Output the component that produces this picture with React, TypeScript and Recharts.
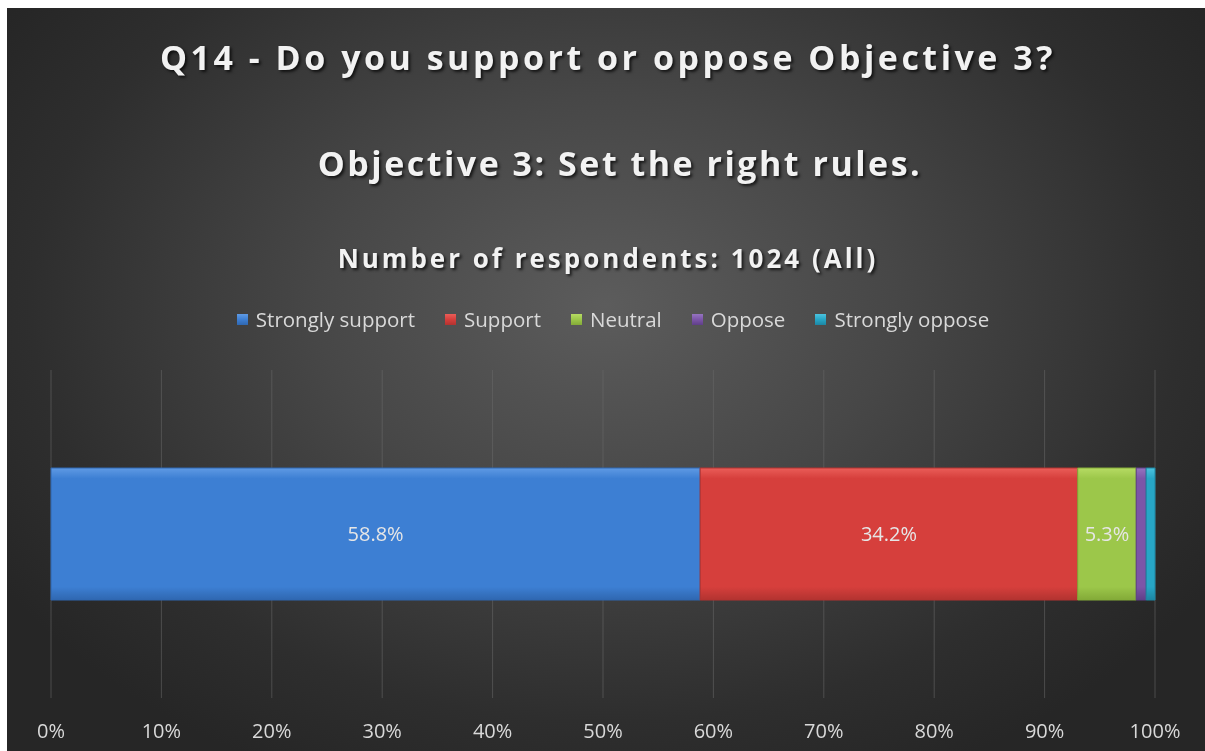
import React from "react";
import { BarChart, Bar, XAxis, YAxis, CartesianGrid, Legend, LabelList } from "recharts";

const categories = ["Q14"];
const seriesNames = ["Strongly support", "Support", "Neutral", "Oppose", "Strongly oppose"];
const seriesValues = [58.8, 34.2, 5.3, 0.9, 0.8];
const seriesColors = ["#3d7fd3", "#d63f3c", "#9cc74a", "#7c55a8", "#27a6c6"];
const seriesLight = ["#5f9ae4", "#ea5d58", "#b6db63", "#9574c0", "#4cc3df"];
const seriesDark = ["#2f67b0", "#b23330", "#83aa38", "#5f3f88", "#1c86a3"];
const labelledSeries = [true, true, true, false, false];
const xTicks = [0, 10, 20, 30, 40, 50, 60, 70, 80, 90, 100];
const titles = ["Q14 - Do you support or oppose Objective 3?", "Objective 3: Set the right rules.", "Number of respondents: 1024 (All)"];

const data = categories.map((c) => {
  const row: any = { name: c };
  seriesNames.forEach((s, i) => (row[s] = seriesValues[i]));
  return row;
});

const W = 1198;
const H = 743;
const FONT = "'Open Sans', 'Noto Sans', sans-serif";

const LegendContent = () => (
  <div style={{ display: "flex", justifyContent: "center", alignItems: "center", fontFamily: FONT, fontSize: 20.5, color: "#d9d9d9", paddingLeft: 14 }}>
    {seriesNames.map((s, i) => (
      <div key={s} style={{ display: "flex", alignItems: "center", marginRight: i < seriesNames.length - 1 ? 30 : 0 }}>
        <span
          style={{
            display: "inline-block",
            width: 11,
            height: 11,
            marginRight: 8,
            background: `linear-gradient(180deg, ${seriesLight[i]} 0%, ${seriesColors[i]} 50%, ${seriesDark[i]} 100%)`,
          }}
        />
        <span>{s}</span>
      </div>
    ))}
  </div>
);

const titleTops = [57, 163, 258];
const titleSizes = [34, 34, 26];
const titleSpacing = [3.5, 2.5, 3.0];
const titleShift = [4, 28, 4];

export default function App() {
  return (
    <div
      style={{
        position: "fixed",
        left: 7,
        top: 8,
        width: W,
        height: H,
        background: "radial-gradient(ellipse 60% 70% at 50% 40%, #5c5c5c 0%, #474747 40%, #2e2e2e 80%, #262626 100%)",
        overflow: "hidden",
      }}
    >
      {titles.map((t, i) => (
        <div
          key={t}
          style={{
            position: "absolute",
            left: 0,
            width: W,
            boxSizing: "border-box",
            paddingLeft: titleShift[i],
            textAlign: "center",
            top: titleTops[i] - 8 - 25,
            fontFamily: FONT,
            fontWeight: 700,
            fontSize: titleSizes[i],
            lineHeight: "50px",
            letterSpacing: titleSpacing[i],
            color: "#f2f2f2",
            textShadow: "2px 2px 3px rgba(0,0,0,0.7)",
          }}
        >
          {t}
        </div>
      ))}
      <div style={{ position: "absolute", left: 0, top: 0 }}>
        <BarChart
          width={W}
          height={H}
          data={data}
          layout="vertical"
          margin={{ top: 362, right: 50, bottom: 0, left: 44 }}
          barCategoryGap={0}
        >
          <defs>
            {seriesNames.map((s, i) => (
              <linearGradient key={s} id={`g${i}`} x1="0" y1="0" x2="0" y2="1">
                <stop offset="0%" stopColor={seriesLight[i]} />
                <stop offset="8%" stopColor={seriesColors[i]} />
                <stop offset="90%" stopColor={seriesColors[i]} />
                <stop offset="100%" stopColor={seriesDark[i]} />
              </linearGradient>
            ))}
          </defs>
          <CartesianGrid horizontal={false} stroke="#6a6a6a" strokeOpacity={0.55} />
          <XAxis
            type="number"
            domain={[0, 100]}
            ticks={xTicks}
            tickFormatter={(v) => `${v}%`}
            axisLine={false}
            tickLine={false}
            height={53}
            tickMargin={20}
            interval={0}
            tick={{ fill: "#d9d9d9", fontSize: 20, fontFamily: FONT }}
          />
          <YAxis type="category" dataKey="name" hide />
          <Legend
            verticalAlign="middle"
            align="center"
            layout="horizontal"
            content={<LegendContent />}
            wrapperStyle={{ top: 297, left: 0, width: W }}
          />
          {seriesNames.map((s, i) => (
            <Bar
              key={s}
              dataKey={s}
              stackId="a"
              barSize={132}
              fill={`url(#g${i})`}
              stroke={seriesDark[i]}
              strokeWidth={1}
              isAnimationActive={false}
            >
              {labelledSeries[i] && (
                <LabelList
                  dataKey={s}
                  position="center"
                  formatter={(v: any) => `${Number(v).toFixed(1)}%`}
                  fill="#e6e6e6"
                  fontSize={20}
                  fontFamily={FONT}
                />
              )}
            </Bar>
          ))}
        </BarChart>
      </div>
    </div>
  );
}
